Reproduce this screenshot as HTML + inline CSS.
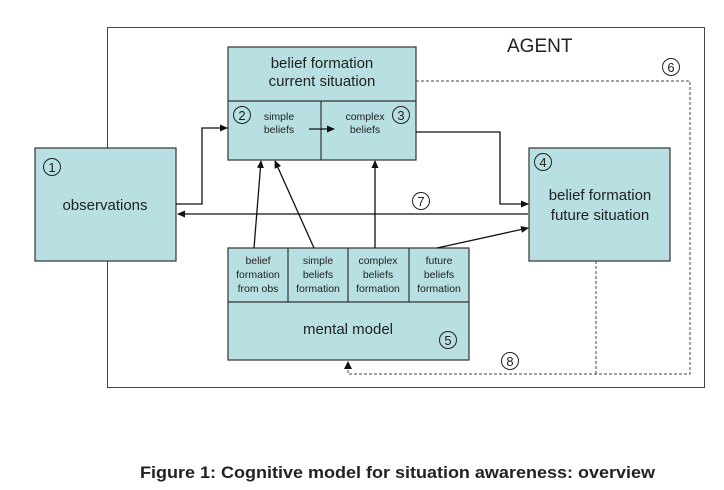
<!DOCTYPE html>
<html><head><style>
html,body{margin:0;padding:0;background:#fff}
svg{display:block}
text{font-family:"Liberation Sans",Arial,sans-serif;fill:#222}
</style></head><body>
<svg width="724" height="490" viewBox="0 0 724 490" xmlns="http://www.w3.org/2000/svg">
<defs>
<marker id="a" markerWidth="8" markerHeight="8" refX="7" refY="4" orient="auto" markerUnits="userSpaceOnUse">
<path d="M0,0.5 L8,4 L0,7.5 z" fill="#111"/></marker>
</defs>
<rect x="107.5" y="27.5" width="597" height="360" fill="#fff" stroke="#444" stroke-width="1"/>
<text x="507" y="52" font-size="19">AGENT</text>

<g fill="#b8dfe2" stroke="#333" stroke-width="1.2">
<rect x="35" y="148" width="141" height="113"/>
<rect x="529" y="148" width="141" height="113"/>
<rect x="228" y="47" width="188" height="113"/>
<rect x="228" y="248" width="241" height="112"/>
</g>
<g stroke="#333" stroke-width="1.2" fill="none">
<line x1="228" y1="101" x2="416" y2="101"/>
<line x1="321" y1="101" x2="321" y2="160"/>
<line x1="228" y1="302" x2="469" y2="302"/>
<line x1="288" y1="248" x2="288" y2="302"/>
<line x1="348" y1="248" x2="348" y2="302"/>
<line x1="409" y1="248" x2="409" y2="302"/>
</g>

<g stroke="#111" stroke-width="1.3" fill="none">
<polyline points="176,204 202,204 202,128 227,128" marker-end="url(#a)"/>
<polyline points="416,132 500,132 500,204 528,204" marker-end="url(#a)"/>
<line x1="528" y1="214" x2="178" y2="214" marker-end="url(#a)"/>
<line x1="437" y1="248" x2="528" y2="228" marker-end="url(#a)"/>
<line x1="254" y1="248" x2="261" y2="161" marker-end="url(#a)"/>
<line x1="314" y1="248" x2="275" y2="161" marker-end="url(#a)"/>
<line x1="375" y1="248" x2="375" y2="161" marker-end="url(#a)"/>
<line x1="309" y1="129" x2="334" y2="129" marker-end="url(#a)"/>
</g>
<g stroke="#444" stroke-width="1" fill="none" stroke-dasharray="3,2">
<polyline points="416,81 690,81 690,374 348,374 348,364"/>
<line x1="596" y1="261" x2="596" y2="374"/>
</g>
<path d="M344,369 L348,361 L352,369 z" fill="#111"/>

<g fill="none" stroke="#222" stroke-width="1">
<circle cx="52" cy="167" r="8.5"/>
<circle cx="242" cy="115" r="8.5"/>
<circle cx="401" cy="115" r="8.5"/>
<circle cx="543" cy="162" r="8.5"/>
<circle cx="448" cy="340" r="8.5"/>
<circle cx="671" cy="67" r="8.5"/>
<circle cx="421" cy="201" r="8.5"/>
<circle cx="510" cy="361" r="8.5"/>
</g>
<g font-size="13" text-anchor="middle">
<text x="52" y="172">1</text>
<text x="242" y="120">2</text>
<text x="401" y="120">3</text>
<text x="543" y="167">4</text>
<text x="448" y="345">5</text>
<text x="671" y="72">6</text>
<text x="421" y="206">7</text>
<text x="510" y="366">8</text>
</g>

<g text-anchor="middle">
<text x="322" y="68" font-size="15">belief formation</text>
<text x="322" y="86" font-size="15">current situation</text>
<text x="279" y="120" font-size="10.5">simple</text>
<text x="279" y="133" font-size="10.5">beliefs</text>
<text x="365" y="120" font-size="10.5">complex</text>
<text x="365" y="133" font-size="10.5">beliefs</text>
<text x="105" y="210" font-size="15">observations</text>
<text x="600" y="200" font-size="15">belief formation</text>
<text x="600" y="220" font-size="15">future situation</text>
<text x="348" y="334" font-size="15">mental model</text>
<g font-size="10.5">
<text x="258" y="264">belief</text><text x="258" y="278">formation</text><text x="258" y="292">from obs</text>
<text x="318" y="264">simple</text><text x="318" y="278">beliefs</text><text x="318" y="292">formation</text>
<text x="378" y="264">complex</text><text x="378" y="278">beliefs</text><text x="378" y="292">formation</text>
<text x="439" y="264">future</text><text x="439" y="278">beliefs</text><text x="439" y="292">formation</text>
</g>
</g>
<text x="140" y="478" font-size="16.5" font-weight="bold" textLength="515" lengthAdjust="spacingAndGlyphs">Figure 1: Cognitive model for situation awareness: overview</text>
</svg>
</body></html>
